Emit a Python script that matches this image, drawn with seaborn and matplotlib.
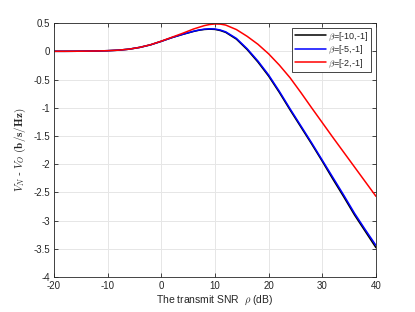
import numpy as np
import pandas as pd
import matplotlib
matplotlib.use("Agg")
import matplotlib.pyplot as plt
import seaborn as sns

snr_db = [-20, -18, -16, -14, -12, -10, -8, -6, -4, -2, 0, 2, 4, 6, 7, 8, 9, 10,
          11, 12, 14, 16, 18, 20, 22, 24, 26, 28, 30, 32, 34, 36, 38, 40]

beta_10 = [0.0, 0.0, 0.001, 0.003, 0.006, 0.011, 0.02, 0.038, 0.07, 0.115, 0.177,
           0.243, 0.30, 0.352, 0.373, 0.387, 0.393, 0.388, 0.368, 0.335, 0.215,
           0.03, -0.19, -0.44, -0.73, -1.04, -1.34, -1.64, -1.95, -2.27, -2.58,
           -2.90, -3.19, -3.48]
beta_5 = [0.0, 0.0, 0.001, 0.003, 0.006, 0.011, 0.02, 0.038, 0.07, 0.115, 0.177,
          0.244, 0.302, 0.355, 0.377, 0.392, 0.399, 0.395, 0.377, 0.345, 0.228,
          0.045, -0.172, -0.42, -0.71, -1.02, -1.32, -1.62, -1.93, -2.24, -2.55,
          -2.87, -3.16, -3.44]
beta_2 = [0.0, 0.0, 0.001, 0.003, 0.006, 0.011, 0.02, 0.038, 0.07, 0.117, 0.18,
          0.25, 0.32, 0.395, 0.425, 0.455, 0.475, 0.485, 0.482, 0.465, 0.385,
          0.265, 0.125, -0.045, -0.245, -0.47, -0.73, -1.0, -1.265, -1.53, -1.79,
          -2.05, -2.31, -2.57]

labels = [r"$\beta$=[-10,-1]", r"$\beta$=[-5,-1]", r"$\beta$=[-2,-1]"]
colors = ["#000000", "#0000ff", "#ff0000"]

x_ticks = [-20, -10, 0, 10, 20, 30, 40]
y_ticks = [0.5, 0, -0.5, -1, -1.5, -2, -2.5, -3, -3.5, -4]

rows = []
for lab, ser in zip(labels, [beta_10, beta_5, beta_2]):
    for xv, yv in zip(snr_db, ser):
        rows.append({"snr": xv, "val": yv, "beta": lab})
df = pd.DataFrame(rows)

sns.set_style("ticks")
plt.rcParams["font.family"] = ["Liberation Sans", "DejaVu Sans"]
plt.rcParams["mathtext.fontset"] = "cm"
plt.rcParams["axes.unicode_minus"] = False

fig = plt.figure(figsize=(4.15, 3.12), dpi=100)
ax = fig.add_axes([0.130, 0.112, 0.776, 0.814])

sns.lineplot(data=df, x="snr", y="val", hue="beta", palette=colors,
             hue_order=labels, linewidth=1.1, ax=ax, legend=True)

ax.set_xlim(-20, 40)
ax.set_ylim(-4, 0.5)
ax.set_xticks(x_ticks)
ax.set_yticks(y_ticks)
ax.set_xticklabels([str(t) for t in x_ticks])
ax.set_yticklabels([("%g" % t) for t in y_ticks])
ax.grid(True, color="#e6e6e6", linewidth=0.7)
ax.set_axisbelow(True)
for s in ax.spines.values():
    s.set_visible(True)
    s.set_color("#262626")
    s.set_linewidth(0.6)
ax.tick_params(direction="in", top=True, right=True, length=3, width=0.6,
               labelsize=7, colors="#262626", pad=3)

ax.set_xlabel(r"The transmit SNR  $\rho$ (dB)", fontsize=7.5, color="#262626", labelpad=2)
ax.set_ylabel(r"$V_N$ - $V_O$ $\mathbf{(b/s/Hz)}$", fontsize=8, color="#262626", labelpad=4)

leg = ax.legend(loc="upper right", fontsize=6.5, frameon=True, fancybox=False,
                edgecolor="#262626", handlelength=3.4, borderpad=0.3,
                labelspacing=0.15, handletextpad=0.3, borderaxespad=0.5)
leg.get_frame().set_linewidth(0.6)
leg.get_frame().set_alpha(1)

fig.savefig("out.png", dpi=100)
